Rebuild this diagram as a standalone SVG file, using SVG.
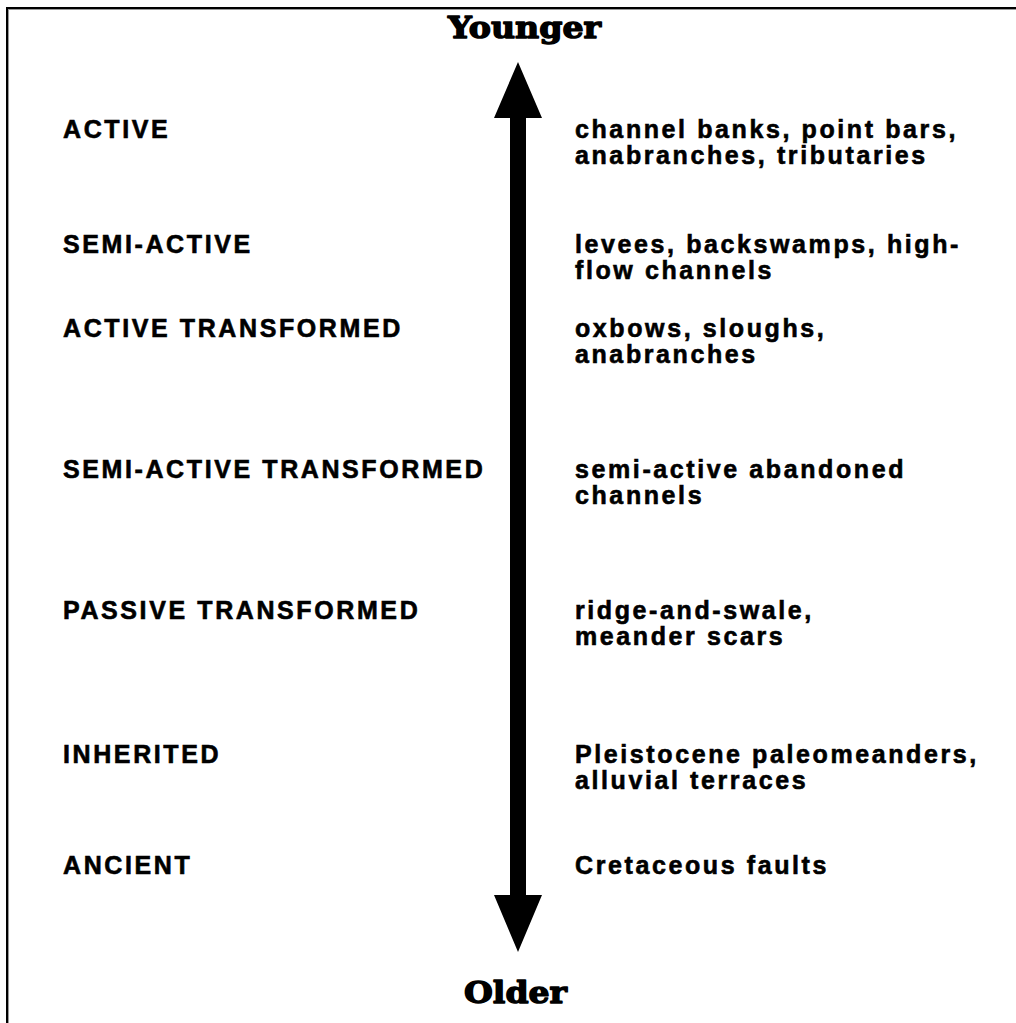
<svg xmlns="http://www.w3.org/2000/svg" width="1016" height="1023" viewBox="0 0 1016 1023">
<style>
.lbl{font-family:"Liberation Sans",Arial,sans-serif;font-weight:bold;font-size:25px;letter-spacing:2.6px;fill:#000;stroke:#000;stroke-width:0.6px}
.ttl{font-family:"DejaVu Serif","Liberation Serif",serif;font-weight:900;font-size:30px;fill:#000;stroke:#000;stroke-width:1.4px;stroke-linejoin:round}
</style>
<rect width="1016" height="1023" fill="#fff"/>
<g id="frame">
<rect x="6" y="7" width="1010" height="2" fill="#000"/>
<rect x="8" y="9" width="1008" height="1" fill="#999"/>
<rect x="6" y="7" width="2" height="1016" fill="#000"/>
<rect x="8" y="9" width="1" height="1014" fill="#999"/>
</g>
<g id="connectors">
<polygon points="518,62 542,118 526,118 526,895 542,895 518,952 494,895 510,895 510,118 494,118" fill="#000"/>
</g>
<g id="title-younger"><text class="ttl" x="448" y="38" textLength="153" lengthAdjust="spacingAndGlyphs">Younger</text></g>
<g id="title-older"><text class="ttl" x="464" y="1003" textLength="103" lengthAdjust="spacingAndGlyphs">Older</text></g>
<g id="active"><text class="lbl" x="63" y="138">ACTIVE</text></g>
<g id="semi-active"><text class="lbl" x="63" y="253">SEMI-ACTIVE</text></g>
<g id="active-transformed"><text class="lbl" x="63" y="337">ACTIVE TRANSFORMED</text></g>
<g id="semi-active-transformed"><text class="lbl" x="63" y="478">SEMI-ACTIVE TRANSFORMED</text></g>
<g id="passive-transformed"><text class="lbl" x="63" y="619">PASSIVE TRANSFORMED</text></g>
<g id="inherited"><text class="lbl" x="63" y="763">INHERITED</text></g>
<g id="ancient"><text class="lbl" x="63" y="874">ANCIENT</text></g>
<g id="desc-active"><text class="lbl" x="575" y="138">channel banks, point bars,</text><text class="lbl" x="575" y="164">anabranches, tributaries</text></g>
<g id="desc-semi-active"><text class="lbl" x="575" y="253">levees, backswamps, high-</text><text class="lbl" x="575" y="279">flow channels</text></g>
<g id="desc-active-transformed"><text class="lbl" x="575" y="337">oxbows, sloughs,</text><text class="lbl" x="575" y="363">anabranches</text></g>
<g id="desc-semi-active-transformed"><text class="lbl" x="575" y="478">semi-active abandoned</text><text class="lbl" x="575" y="504">channels</text></g>
<g id="desc-passive-transformed"><text class="lbl" x="575" y="619">ridge-and-swale,</text><text class="lbl" x="575" y="645">meander scars</text></g>
<g id="desc-inherited"><text class="lbl" x="575" y="763">Pleistocene paleomeanders,</text><text class="lbl" x="575" y="789">alluvial terraces</text></g>
<g id="desc-ancient"><text class="lbl" x="575" y="874">Cretaceous faults</text></g>
</svg>
